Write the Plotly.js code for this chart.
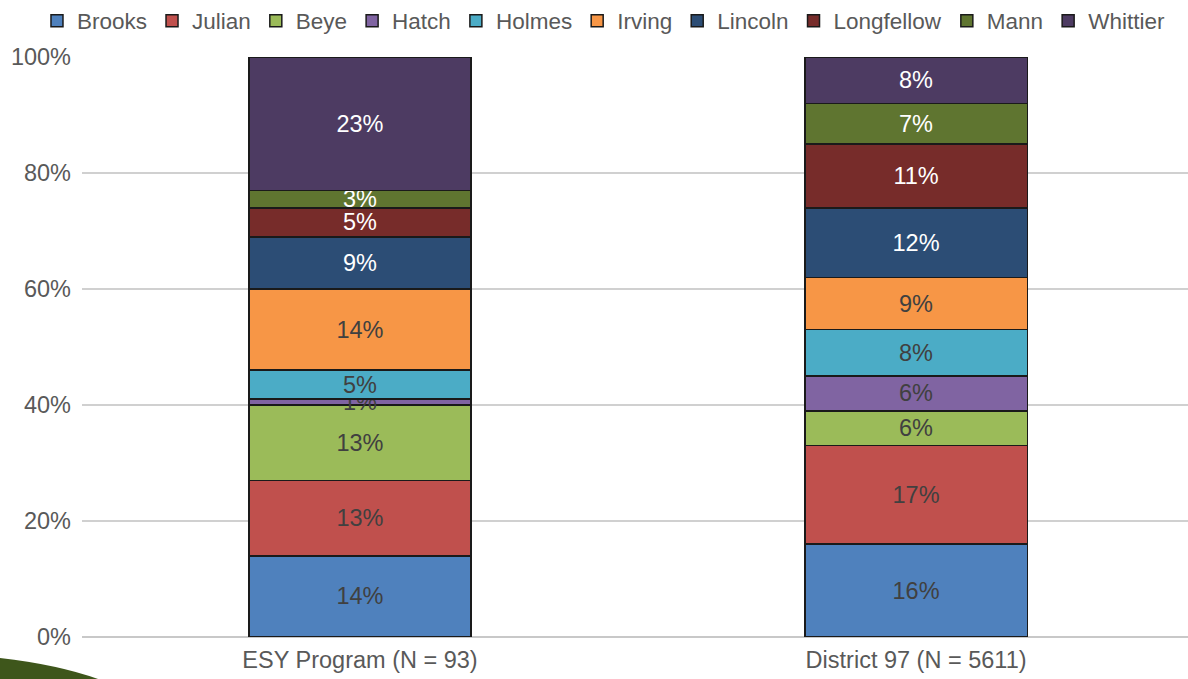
<!DOCTYPE html>
<html>
<head>
<meta charset="utf-8">
<script src="https://cdn.plot.ly/plotly-3.0.1.min.js"></script>
<style>
html,body{margin:0;padding:0;background:#fff;}
#chart{width:1188px;height:679px;}
</style>
</head>
<body>
<div id="chart"></div>
<script>
const categories = ["ESY Program (N = 93)", "District 97 (N = 5611)"];
const schools = ["Brooks","Julian","Beye","Hatch","Holmes","Irving","Lincoln","Longfellow","Mann","Whittier"];
const esyValues      = [14, 13, 13, 1, 5, 14, 9, 5, 3, 23];
const districtValues = [16, 17, 6, 6, 8, 9, 12, 11, 7, 8];
const colors = ["#4F81BD","#C0504D","#9BBB59","#8064A2","#4BACC6","#F79646","#2C4D75","#772C2A","#5F7530","#4D3B62"];
const textColors = ["#404040","#404040","#404040","#404040","#404040","#404040","#FFFFFF","#FFFFFF","#FFFFFF","#FFFFFF"];
const yTickVals = [0,20,40,60,80,100];
const yTickText = ["0%","20%","40%","60%","80%","100%"];

const FONT = "Liberation Sans, Arial, sans-serif";

const traces = schools.map((s, i) => ({
  type: "bar",
  name: s,
  x: categories,
  y: [esyValues[i], districtValues[i]],
  marker: {color: colors[i], line: {color: "#1a1a1a", width: 1.5}},
  text: [esyValues[i] + "%", districtValues[i] + "%"],
  texttemplate: "%{text}",
  textposition: "inside",
  insidetextanchor: "middle",
  textangle: 0,
  textfont: {family: FONT, size: 23.5, color: textColors[i]},
  hoverinfo: "skip"
}));

const layout = {
  width: 1188,
  height: 679,
  barmode: "stack",
  bargap: 0.6,
  paper_bgcolor: "#ffffff",
  plot_bgcolor: "#ffffff",
  margin: {l: 82, r: 0, t: 57, b: 42, pad: 0, autoexpand: false},
  font: {family: FONT, size: 23.5, color: "#595959"},
  uniformtext: {mode: "show", minsize: 23.5},
  showlegend: true,
  legend: {
    orientation: "h",
    xref: "paper", yref: "paper",
    x: -0.0407, xanchor: "left",
    y: 1.062, yanchor: "middle",
    font: {family: FONT, size: 22.5, color: "#595959"},
    traceorder: "normal",
    itemwidth: 30,
    bgcolor: "rgba(0,0,0,0)"
  },
  xaxis: {
    type: "category",
    range: [-0.5, 1.489],
    showgrid: false,
    zeroline: false,
    showline: false,
    ticks: "",
    ticklabelstandoff: 6,
    tickfont: {family: FONT, size: 23.5, color: "#595959"},
    fixedrange: true
  },
  yaxis: {
    range: [0, 100],
    tickvals: yTickVals,
    ticktext: yTickText,
    showgrid: true,
    gridcolor: "#D0D0D0",
    gridwidth: 1.5,
    zeroline: true,
    zerolinecolor: "#C8C8C8",
    zerolinewidth: 2,
    showline: false,
    ticks: "",
    ticklabelstandoff: 10,
    tickfont: {family: FONT, size: 23.5, color: "#595959"},
    fixedrange: true
  },
  shapes: [{
    type: "path",
    xref: "paper", yref: "paper",
    path: "M -0.0742 -0.0362 Q -0.02 -0.048 0.0175 -0.0745 L -0.0742 -0.0745 Z",
    fillcolor: "#3E561B",
    line: {width: 0},
    layer: "above"
  }]
};

Plotly.newPlot("chart", traces, layout, {displayModeBar: false, staticPlot: true});
</script>
</body>
</html>
